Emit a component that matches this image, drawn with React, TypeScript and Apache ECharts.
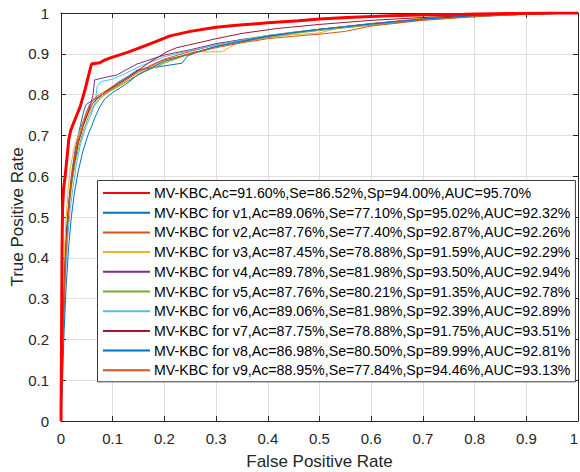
import React, { useEffect, useRef } from "react";
import * as echarts from "echarts";

const seriesNames = [
  "MV-KBC,Ac=91.60%,Se=86.52%,Sp=94.00%,AUC=95.70%",
  "MV-KBC for v1,Ac=89.06%,Se=77.10%,Sp=95.02%,AUC=92.32%",
  "MV-KBC for v2,Ac=87.76%,Se=77.40%,Sp=92.87%,AUC=92.26%",
  "MV-KBC for v3,Ac=87.45%,Se=78.88%,Sp=91.59%,AUC=92.29%",
  "MV-KBC for v4,Ac=89.78%,Se=81.98%,Sp=93.50%,AUC=92.94%",
  "MV-KBC for v5,Ac=87.76%,Se=80.21%,Sp=91.35%,AUC=92.78%",
  "MV-KBC for v6,Ac=89.06%,Se=81.98%,Sp=92.39%,AUC=92.89%",
  "MV-KBC for v7,Ac=87.75%,Se=78.88%,Sp=91.75%,AUC=93.51%",
  "MV-KBC for v8,Ac=86.98%,Se=80.50%,Sp=89.99%,AUC=92.81%",
  "MV-KBC for v9,Ac=88.95%,Se=77.84%,Sp=94.46%,AUC=93.13%",
];

const seriesColors = [
  "#FF0000", "#0072BD", "#D95319", "#EDB120", "#7E2F8E",
  "#77AC30", "#4DBEEE", "#A2142F", "#0072BD", "#D95319",
];

const rocMain = [[0,0],[0.001,0.2],[0.002,0.42],[0.003,0.52],[0.005,0.57],[0.008,0.6],[0.012,0.65],[0.015,0.69],[0.019,0.713],[0.028,0.742],[0.037,0.77],[0.046,0.81],[0.053,0.845],[0.059,0.875],[0.075,0.878],[0.085,0.885],[0.1,0.892],[0.13,0.904],[0.157,0.917],[0.182,0.929],[0.211,0.944],[0.25,0.955],[0.3,0.965],[0.34,0.97],[0.4,0.976],[0.46,0.981],[0.5,0.985],[0.553,0.989],[0.636,0.993],[0.714,0.996],[0.78,0.997],[0.88,0.999],[0.95,1],[1,1]];
const rocV1 = [[0,0],[0.002,0.1],[0.004,0.22],[0.007,0.35],[0.01,0.45],[0.014,0.52],[0.018,0.57],[0.022,0.62],[0.028,0.67],[0.035,0.71],[0.042,0.75],[0.048,0.775],[0.06,0.785],[0.075,0.795],[0.09,0.81],[0.11,0.83],[0.13,0.845],[0.147,0.86],[0.234,0.877],[0.245,0.895],[0.26,0.902],[0.3,0.918],[0.35,0.932],[0.4,0.944],[0.45,0.952],[0.5,0.96],[0.55,0.966],[0.6,0.972],[0.7,0.984],[0.8,0.992],[0.9,0.997],[1,1]];
const rocV2 = [[0,0],[0.002,0.14],[0.005,0.28],[0.008,0.4],[0.012,0.49],[0.016,0.55],[0.02,0.6],[0.026,0.645],[0.032,0.69],[0.04,0.725],[0.05,0.76],[0.06,0.785],[0.07,0.797],[0.085,0.808],[0.1,0.82],[0.125,0.838],[0.15,0.858],[0.2,0.887],[0.25,0.906],[0.3,0.922],[0.35,0.935],[0.4,0.945],[0.45,0.953],[0.5,0.96],[0.6,0.974],[0.7,0.986],[0.8,0.993],[0.9,0.998],[1,1]];
const rocV3 = [[0,0],[0.002,0.15],[0.004,0.3],[0.007,0.42],[0.01,0.5],[0.014,0.57],[0.018,0.62],[0.024,0.66],[0.03,0.69],[0.04,0.72],[0.05,0.745],[0.06,0.768],[0.07,0.785],[0.085,0.8],[0.1,0.812],[0.127,0.83],[0.15,0.85],[0.2,0.88],[0.256,0.905],[0.311,0.905],[0.34,0.926],[0.4,0.94],[0.45,0.947],[0.5,0.951],[0.534,0.963],[0.617,0.975],[0.714,0.99],[0.8,0.995],[0.9,0.998],[1,1]];
const rocV4 = [[0,0],[0.002,0.12],[0.005,0.26],[0.008,0.38],[0.012,0.47],[0.016,0.53],[0.02,0.58],[0.026,0.63],[0.033,0.68],[0.042,0.72],[0.052,0.755],[0.058,0.78],[0.062,0.8],[0.065,0.836],[0.085,0.842],[0.108,0.848],[0.125,0.86],[0.147,0.875],[0.2,0.897],[0.25,0.91],[0.3,0.925],[0.35,0.935],[0.4,0.942],[0.45,0.952],[0.5,0.96],[0.6,0.974],[0.7,0.985],[0.8,0.992],[0.9,0.997],[1,1]];
const rocV5 = [[0,0],[0.002,0.11],[0.005,0.25],[0.008,0.37],[0.012,0.46],[0.016,0.53],[0.021,0.58],[0.027,0.63],[0.034,0.67],[0.043,0.71],[0.053,0.745],[0.063,0.77],[0.075,0.79],[0.09,0.805],[0.11,0.82],[0.13,0.835],[0.16,0.855],[0.2,0.877],[0.25,0.9],[0.3,0.918],[0.35,0.93],[0.4,0.94],[0.45,0.95],[0.5,0.957],[0.6,0.97],[0.7,0.983],[0.8,0.992],[0.9,0.997],[1,1]];
const rocV6 = [[0,0],[0.002,0.1],[0.005,0.23],[0.009,0.36],[0.013,0.45],[0.018,0.52],[0.023,0.57],[0.03,0.63],[0.038,0.68],[0.048,0.72],[0.058,0.75],[0.066,0.78],[0.07,0.82],[0.078,0.832],[0.1,0.838],[0.125,0.852],[0.15,0.868],[0.2,0.893],[0.25,0.908],[0.3,0.922],[0.35,0.934],[0.4,0.945],[0.45,0.953],[0.5,0.96],[0.6,0.973],[0.7,0.984],[0.8,0.991],[0.9,0.997],[1,1]];
const rocV7 = [[0,0],[0.002,0.13],[0.005,0.27],[0.008,0.39],[0.012,0.48],[0.016,0.54],[0.02,0.59],[0.026,0.635],[0.033,0.68],[0.042,0.72],[0.052,0.755],[0.062,0.78],[0.075,0.795],[0.09,0.81],[0.11,0.825],[0.13,0.842],[0.15,0.86],[0.172,0.88],[0.205,0.905],[0.224,0.915],[0.3,0.937],[0.35,0.95],[0.418,0.962],[0.5,0.972],[0.6,0.982],[0.7,0.989],[0.8,0.994],[0.9,0.998],[1,1]];
const rocV8 = [[0,0],[0.003,0.1],[0.006,0.22],[0.01,0.33],[0.015,0.43],[0.02,0.5],[0.026,0.56],[0.033,0.61],[0.042,0.66],[0.052,0.7],[0.06,0.725],[0.066,0.745],[0.075,0.77],[0.085,0.79],[0.1,0.805],[0.125,0.825],[0.15,0.85],[0.2,0.882],[0.25,0.9],[0.3,0.918],[0.35,0.93],[0.4,0.943],[0.45,0.952],[0.5,0.96],[0.6,0.973],[0.7,0.985],[0.8,0.993],[0.9,0.998],[1,1]];
const rocV9 = [[0,0],[0.002,0.12],[0.005,0.26],[0.008,0.38],[0.012,0.47],[0.016,0.54],[0.021,0.6],[0.026,0.64],[0.032,0.68],[0.04,0.715],[0.048,0.75],[0.055,0.775],[0.065,0.79],[0.08,0.8],[0.1,0.815],[0.125,0.835],[0.15,0.855],[0.2,0.885],[0.25,0.9],[0.3,0.915],[0.35,0.927],[0.4,0.937],[0.45,0.943],[0.5,0.948],[0.55,0.955],[0.6,0.968],[0.7,0.982],[0.8,0.991],[0.9,0.997],[1,1]];

const allCurves = [rocMain, rocV1, rocV2, rocV3, rocV4, rocV5, rocV6, rocV7, rocV8, rocV9];

const FONT = "'Liberation Sans', Arial, Helvetica, sans-serif";

export default function App() {
  const ref = useRef<HTMLDivElement>(null);
  useEffect(() => {
    if (!ref.current) return;
    const chart = echarts.init(ref.current, undefined, { renderer: "svg" });
    const axisCommon = {
      type: "value" as const,
      min: 0,
      max: 1,
      interval: 0.1,
      axisLine: { show: true, onZero: false, lineStyle: { color: "#262626", width: 1 } },
      axisTick: { show: true, inside: true, length: 5, lineStyle: { color: "#262626" } },
    };
    const series: any[] = allCurves.map((d, i) => ({
      type: "line",
      name: seriesNames[i],
      data: d,
      symbol: "none",
      showSymbol: false,
      xAxisIndex: 0,
      yAxisIndex: 0,
      z: i === 0 ? 10 : 2,
      lineStyle: { color: seriesColors[i], width: i === 0 ? 3 : 1 },
      itemStyle: { color: seriesColors[i] },
      emphasis: { disabled: true },
    }));
    const ordered = [...series.slice(1), series[0]];
    chart.setOption({
      animation: false,
      backgroundColor: "#ffffff",
      textStyle: { fontFamily: FONT },
      grid: { left: 61, right: 2, top: 13, bottom: 51, containLabel: false, outerBoundsMode: "none" },
      legend: {
        data: seriesNames,
        orient: "vertical",
        left: 97.5,
        top: 180.5,
        itemWidth: 47,
        itemHeight: 14,
        itemGap: 5.7,
        padding: [5.5, 5, 4.5, 4.5],
        backgroundColor: "#ffffff",
        borderColor: "#3a3a3a",
        borderWidth: 1,
        selectedMode: false,
        itemStyle: { opacity: 0, borderWidth: 0 },
        textStyle: { fontFamily: FONT, fontSize: 14.2, color: "#000000", padding: [0, 0, 0, -1] },
      },
      xAxis: [
        {
          ...axisCommon,
          position: "bottom",
          name: "False Positive Rate",
          nameLocation: "middle",
          nameGap: 31.5,
          nameMoveOverlap: false,
          nameTextStyle: { fontFamily: FONT, fontSize: 17, color: "#262626" },
          axisLabel: { fontFamily: FONT, fontSize: 15, color: "#262626", margin: 10, alignMaxLabel: "right" },
          splitLine: { show: true, lineStyle: { color: "#dfdfdf", width: 1 } },
        },
        {
          ...axisCommon,
          position: "top",
          axisLabel: { show: false },
          splitLine: { show: false },
        },
      ],
      yAxis: [
        {
          ...axisCommon,
          position: "left",
          name: "True Positive Rate",
          nameLocation: "middle",
          nameGap: 35,
          nameMoveOverlap: false,
          nameTextStyle: { fontFamily: FONT, fontSize: 17, color: "#262626" },
          axisLabel: { fontFamily: FONT, fontSize: 15, color: "#262626", margin: 12 },
          splitLine: { show: true, lineStyle: { color: "#dfdfdf", width: 1 } },
        },
        {
          ...axisCommon,
          position: "right",
          axisLabel: { show: false },
          splitLine: { show: false },
        },
      ],
      series: ordered,
    });
    return () => chart.dispose();
  }, []);
  return (
    <div
      ref={ref}
      style={{ position: "absolute", left: 0, top: 0, width: 580, height: 472, background: "#fff" }}
    />
  );
}
